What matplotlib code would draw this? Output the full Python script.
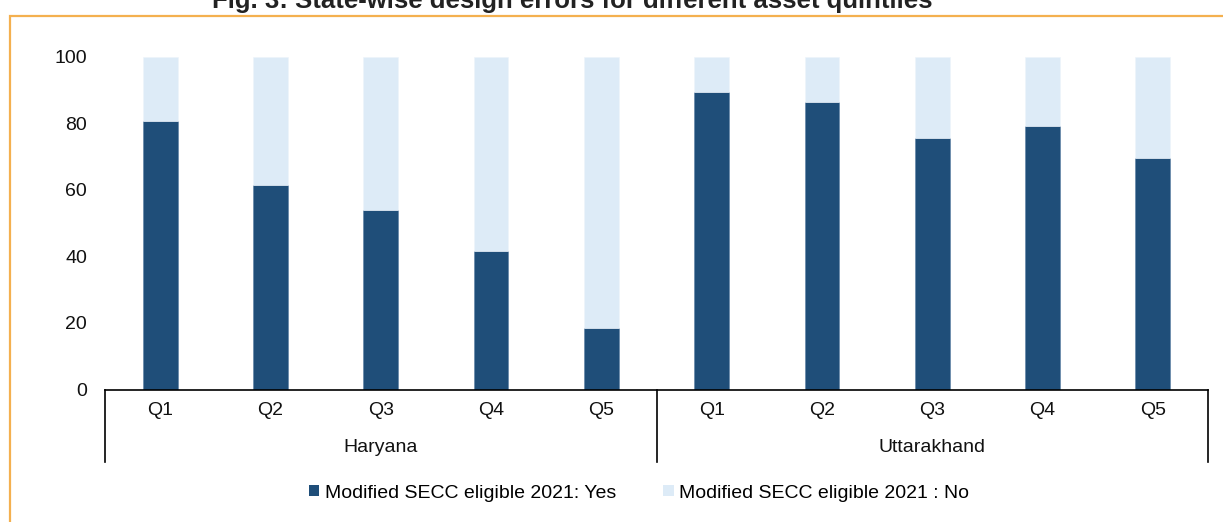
import matplotlib
matplotlib.use("Agg")
import matplotlib.pyplot as plt
from matplotlib.patches import Rectangle, Patch
from matplotlib.lines import Line2D
import numpy as np

plt.rcParams['font.family'] = ['Liberation Sans', 'DejaVu Sans']

title = "Fig. 3: State-wise design errors for different asset quintiles"
states = ["Haryana", "Uttarakhand"]
quintiles = ["Q1", "Q2", "Q3", "Q4", "Q5"]
yes_vals = [80.6, 61.4, 53.9, 41.5, 18.6, 89.3, 86.4, 75.5, 79.2, 69.6]
no_vals = [100 - v for v in yes_vals]
series_names = ["Modified SECC eligible 2021: Yes", "Modified SECC eligible 2021 : No"]
yticks = [0, 20, 40, 60, 80, 100]

dark = "#1F4E79"
light = "#DDEBF7"
orange = "#F4B04F"
fs = 14

W, H = 1223, 522
fig = plt.figure(figsize=(W / 100, H / 100), dpi=100)

# orange frame
fig.patches.append(Rectangle((9.5 / W, -0.1), 1.2, (H - 15.7) / H + 0.1,
                             transform=fig.transFigure, fill=False,
                             edgecolor=orange, linewidth=1.6, zorder=0))

# title (partially cut off at top, as in the reference)
fig.text(572 / W, 1 - 8 / H, title, ha='center', va='baseline',
         fontsize=18.5, fontweight='bold', color='#222222')

ax_l, ax_r = 105 / W, 1208 / W
ax_b, ax_t = (H - 389.5) / H, (H - 56.7) / H
ax = fig.add_axes([ax_l, ax_b, ax_r - ax_l, ax_t - ax_b])

n = len(yes_vals)
x = np.arange(n)
w = 0.315
ax.bar(x, yes_vals, w, color=dark, edgecolor='#5A7FA5', linewidth=0.4,
       label=series_names[0])
ax.bar(x, no_vals, w, bottom=yes_vals, color=light, edgecolor='#EEF4FB',
       linewidth=0.4, label=series_names[1])

ax.set_xlim(-0.5, n - 0.5)
ax.set_ylim(0, 100)
ax.set_yticks(yticks)
ax.set_yticklabels([str(t) for t in yticks], fontsize=fs, color='#111111')
ax.tick_params(axis='y', length=0, pad=13)
ax.set_xticks(x)
ax.set_xticklabels(quintiles * len(states), fontsize=fs, color='#111111')
ax.tick_params(axis='x', length=0, pad=9)

for s in ['left', 'right', 'top']:
    ax.spines[s].set_visible(False)
ax.spines['bottom'].set_color('black')
ax.spines['bottom'].set_linewidth(1.2)

# group separators and labels
sep_bottom = -(462 - 389.5) / (389.5 - 56.7)
for xs in [-0.5, 4.5, 9.5]:
    ax.add_line(Line2D([xs, xs], [0, sep_bottom], color='black', linewidth=1.2,
                       transform=ax.get_xaxis_transform(), clip_on=False))
lab_y = -(447 - 389.5) / (389.5 - 56.7)
for i, st in enumerate(states):
    ax.text(2 + 5 * i, lab_y, st, ha='center', va='center', fontsize=fs,
            color='#111111', transform=ax.get_xaxis_transform())

handles = [Patch(facecolor=dark, edgecolor='none'), Patch(facecolor=light, edgecolor='none')]
fig.legend(handles, series_names, loc='center', bbox_to_anchor=(639 / W, 1 - 493 / H),
           ncol=2, frameon=False, fontsize=fs, handlelength=0.55, handleheight=0.55,
           handletextpad=0.3, columnspacing=2.4, borderaxespad=0)

fig.savefig("out.png", dpi=100)
